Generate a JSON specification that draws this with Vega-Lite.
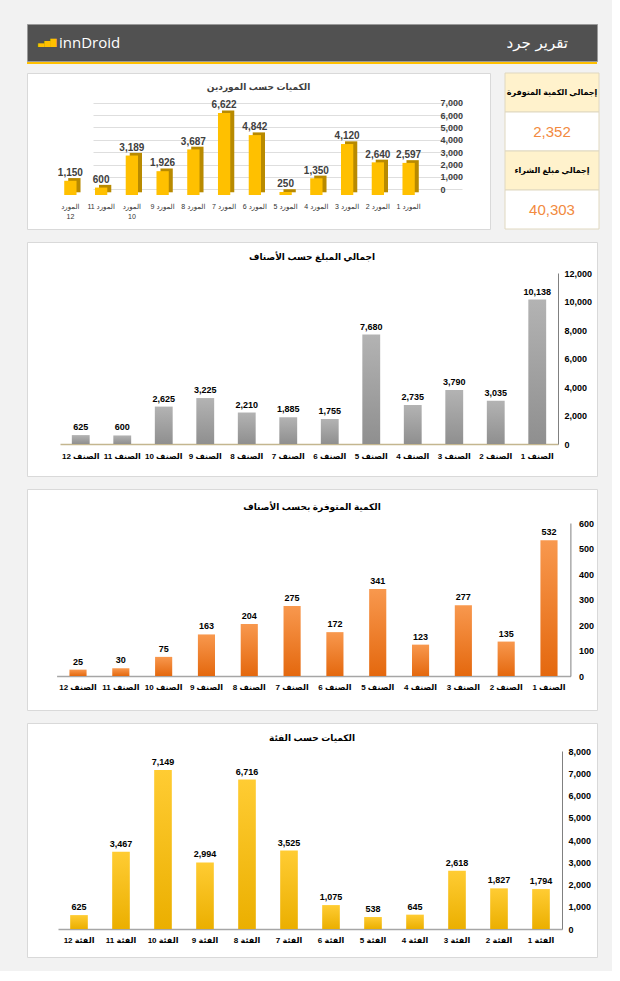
{
  "$schema": "https://vega.github.io/schema/vega-lite/v6.json",
  "background": "#f2f2f2",
  "padding": {"left": 26, "top": 23, "right": 12, "bottom": 13},
  "config": {
    "font": "Liberation Sans, DejaVu Sans, sans-serif",
    "view": {"stroke": null},
    "axis": {"labelFont": "Liberation Sans, DejaVu Sans, sans-serif", "title": null},
    "title": {"font": "Liberation Sans, DejaVu Sans, sans-serif"}
  },
  "datasets": {
    "header": [
      {"part": "logo", "icon": "▃▅▇", "text": "innDroid"},
      {"part": "title", "icon": "", "text": "تقرير جرد"}
    ],
    "kpi": [
      {"row": 1, "part": "label", "text": "إجمالي الكمية المتوفرة"},
      {"row": 2, "part": "value", "text": "2,352"},
      {"row": 3, "part": "label", "text": "إجمالي مبلغ الشراء"},
      {"row": 4, "part": "value", "text": "40,303"}
    ],
    "suppliers": [
      {"supplier": "المورد 12", "qty": 1150},
      {"supplier": "المورد 11", "qty": 600},
      {"supplier": "المورد 10", "qty": 3189},
      {"supplier": "المورد 9", "qty": 1926},
      {"supplier": "المورد 8", "qty": 3687},
      {"supplier": "المورد 7", "qty": 6622},
      {"supplier": "المورد 6", "qty": 4842},
      {"supplier": "المورد 5", "qty": 250},
      {"supplier": "المورد 4", "qty": 1350},
      {"supplier": "المورد 3", "qty": 4120},
      {"supplier": "المورد 2", "qty": 2640},
      {"supplier": "المورد 1", "qty": 2597}
    ],
    "items": [
      {"item": "الصنف 12", "amount": 625, "qty": 25},
      {"item": "الصنف 11", "amount": 600, "qty": 30},
      {"item": "الصنف 10", "amount": 2625, "qty": 75},
      {"item": "الصنف 9", "amount": 3225, "qty": 163},
      {"item": "الصنف 8", "amount": 2210, "qty": 204},
      {"item": "الصنف 7", "amount": 1885, "qty": 275},
      {"item": "الصنف 6", "amount": 1755, "qty": 172},
      {"item": "الصنف 5", "amount": 7680, "qty": 341},
      {"item": "الصنف 4", "amount": 2735, "qty": 123},
      {"item": "الصنف 3", "amount": 3790, "qty": 277},
      {"item": "الصنف 2", "amount": 3035, "qty": 135},
      {"item": "الصنف 1", "amount": 10138, "qty": 532}
    ],
    "categories": [
      {"category": "الفئة 12", "qty": 625},
      {"category": "الفئة 11", "qty": 3467},
      {"category": "الفئة 10", "qty": 7149},
      {"category": "الفئة 9", "qty": 2994},
      {"category": "الفئة 8", "qty": 6716},
      {"category": "الفئة 7", "qty": 3525},
      {"category": "الفئة 6", "qty": 1075},
      {"category": "الفئة 5", "qty": 538},
      {"category": "الفئة 4", "qty": 645},
      {"category": "الفئة 3", "qty": 2618},
      {"category": "الفئة 2", "qty": 1827},
      {"category": "الفئة 1", "qty": 1794}
    ]
  },
  "spacing": 11,
  "vconcat": [
    {
      "spacing": 8,
      "vconcat": [
        {
          "spacing": 0,
          "vconcat": [
            {
              "width": 570,
              "height": 37,
              "view": {"fill": "#515151", "stroke": "#9a9a9a"},
              "data": {"name": "header"},
              "encoding": {
                "x": {"field": "part", "type": "nominal", "scale": {"type": "point", "domain": ["logo", "title"], "range": [11, 541], "padding": 0}, "axis": null}
              },
              "layer": [
                {
                  "transform": [{"filter": "datum.part == 'logo'"}],
                  "mark": {"type": "text", "align": "left", "baseline": "middle", "fontSize": 8, "color": "#FFC000", "font": "DejaVu Sans"},
                  "encoding": {"text": {"field": "icon"}}
                },
                {
                  "transform": [{"filter": "datum.part == 'logo'"}],
                  "mark": {"type": "text", "align": "left", "baseline": "middle", "dx": 21, "fontSize": 15, "color": "white", "font": "Open Sans"},
                  "encoding": {"text": {"field": "text"}}
                },
                {
                  "transform": [{"filter": "datum.part == 'title'"}],
                  "mark": {"type": "text", "align": "right", "baseline": "middle", "fontSize": 15, "color": "white", "font": "DejaVu Sans"},
                  "encoding": {"text": {"field": "text"}}
                }
              ]
            },
            {
              "width": 570,
              "height": 2,
              "view": {"fill": "#FFC000", "stroke": null},
              "data": {"values": []},
              "mark": {"type": "rule"},
              "encoding": {}
            }
          ]
        },
        {
          "spacing": 13,
          "hconcat": [
            {
              "width": 463,
              "height": 156,
              "view": {"fill": "white", "stroke": "#d9d9d9"},
              "title": {"text": "الكميات حسب الموردين", "fontSize": 9, "fontWeight": "bold", "color": "#404040", "anchor": "middle", "baseline": "bottom", "offset": -27.5},
              "data": {"name": "suppliers"},
              "encoding": {
                "x": {
                  "field": "supplier", "type": "nominal", "sort": null,
                  "scale": {"range": [28, 397], "paddingInner": 0.6, "paddingOuter": 0.3},
                  "axis": {"orient": "bottom", "offset": -34, "ticks": false, "domain": false, "labelPadding": 7, "labelFontSize": 7, "labelColor": "#333333", "labelFontWeight": "normal", "labelAngle": 0, "labelLineHeight": 10, "labelExpr": "datum.label == 'المورد 12' || datum.label == 'المورد 10' ? split(datum.label, ' ') : datum.label"}
                },
                "y": {
                  "field": "qty", "type": "quantitative",
                  "scale": {"domain": [0, 7000], "range": [116.3, 29.7]},
                  "axis": {"orient": "right", "offset": -56, "values": [0, 1000, 2000, 3000, 4000, 5000, 6000, 7000], "format": ",.0f", "ticks": false, "domain": false, "grid": true, "gridColor": "#dedede", "labelPadding": 6, "labelFontSize": 9, "labelFontWeight": "bold", "labelColor": "#404040", "labelFlush": false}
                }
              },
              "layer": [
                {"mark": {"type": "bar", "color": "#B88A00", "xOffset": 4, "yOffset": 3, "y2Offset": 3}},
                {"mark": {"type": "bar", "color": "#FFC000", "yOffset": 5.7, "y2Offset": 5.7}},
                {
                  "mark": {"type": "text", "baseline": "alphabetic", "dy": 1, "fontSize": 10, "fontWeight": "bold", "color": "#404040"},
                  "encoding": {"text": {"field": "qty", "format": ","}}
                }
              ]
            },
            {
              "width": 94,
              "height": 156,
              "data": {"name": "kpi"},
              "encoding": {
                "y": {"field": "row", "type": "ordinal", "scale": {"paddingInner": 0, "paddingOuter": 0}, "axis": null}
              },
              "layer": [
                {
                  "mark": {"type": "bar", "stroke": "#e0d8c0", "strokeWidth": 1},
                  "encoding": {"color": {"field": "part", "type": "nominal", "scale": {"domain": ["label", "value"], "range": ["#FFF2CC", "#FFFFFF"]}, "legend": null}}
                },
                {
                  "transform": [{"filter": "datum.part == 'label'"}],
                  "mark": {"type": "text", "fontSize": 8, "fontWeight": "bold", "color": "black"},
                  "encoding": {"text": {"field": "text"}}
                },
                {
                  "transform": [{"filter": "datum.part == 'value'"}],
                  "mark": {"type": "text", "fontSize": 15, "color": "#F28A40"},
                  "encoding": {"text": {"field": "text"}}
                }
              ]
            }
          ]
        }
      ]
    },
    {
      "width": 570,
      "height": 234,
      "view": {"fill": "white", "stroke": "#d9d9d9"},
      "title": {"text": "اجمالي المبلغ حسب الأصناف", "fontSize": 9, "fontWeight": "bold", "color": "black", "anchor": "middle", "baseline": "bottom", "offset": -28.5},
      "data": {"name": "items"},
      "encoding": {
        "x": {
          "field": "item", "type": "nominal", "sort": null,
          "scale": {"range": [33, 531], "paddingInner": 0.57, "paddingOuter": 0.285},
          "axis": {"orient": "bottom", "offset": -32, "ticks": false, "domainColor": "#c4b68f", "domainWidth": 1.5, "labelPadding": 8, "labelFontSize": 8, "labelFontWeight": "bold", "labelColor": "black", "labelAngle": 0}
        },
        "y": {
          "field": "amount", "type": "quantitative",
          "scale": {"domain": [0, 12000], "range": [202, 31]},
          "axis": {"orient": "right", "offset": -39, "values": [0, 2000, 4000, 6000, 8000, 10000, 12000], "format": ",.0f", "ticks": false, "grid": false, "domainColor": "#808080", "labelPadding": 6, "labelFontSize": 9, "labelFontWeight": "bold", "labelColor": "black", "labelFlush": false}
        }
      },
      "layer": [
        {"mark": {"type": "bar", "color": {"gradient": "linear", "x1": 0, "y1": 0, "x2": 0, "y2": 1, "stops": [{"offset": 0, "color": "#b3b3b3"}, {"offset": 1, "color": "#8f8f8f"}]}}},
        {
          "mark": {"type": "text", "baseline": "bottom", "dy": -3, "fontSize": 9, "fontWeight": "bold", "color": "black"},
          "encoding": {"text": {"field": "amount", "format": ","}}
        }
      ]
    },
    {
      "width": 570,
      "height": 221,
      "view": {"fill": "white", "stroke": "#d9d9d9"},
      "title": {"text": "الكمية المتوفرة بحسب الأصناف", "fontSize": 9, "fontWeight": "bold", "color": "black", "anchor": "middle", "baseline": "bottom", "offset": -31.5},
      "data": {"name": "items"},
      "encoding": {
        "x": {
          "field": "item", "type": "nominal", "sort": null,
          "scale": {"range": [29.6, 543.4], "paddingInner": 0.6, "paddingOuter": 0.3},
          "axis": {"orient": "bottom", "offset": -34, "ticks": false, "domainColor": "#a6a6a6", "domainWidth": 1.5, "labelPadding": 7, "labelFontSize": 8, "labelFontWeight": "bold", "labelColor": "black", "labelAngle": 0}
        },
        "y": {
          "field": "qty", "type": "quantitative",
          "scale": {"domain": [0, 600], "range": [187, 34]},
          "axis": {"orient": "right", "offset": -26.6, "values": [0, 100, 200, 300, 400, 500, 600], "format": ",.0f", "ticks": false, "grid": false, "domainColor": "#808080", "labelPadding": 8, "labelFontSize": 9, "labelFontWeight": "bold", "labelColor": "black", "labelFlush": false}
        }
      },
      "layer": [
        {"mark": {"type": "bar", "color": {"gradient": "linear", "x1": 0, "y1": 0, "x2": 0, "y2": 1, "stops": [{"offset": 0, "color": "#F8984E"}, {"offset": 1, "color": "#E4680E"}]}}},
        {
          "mark": {"type": "text", "baseline": "bottom", "dy": -3, "fontSize": 9, "fontWeight": "bold", "color": "black"},
          "encoding": {"text": {"field": "qty", "format": ","}}
        }
      ]
    },
    {
      "width": 570,
      "height": 234,
      "view": {"fill": "white", "stroke": "#d9d9d9"},
      "title": {"text": "الكميات حسب الفئة", "fontSize": 9, "fontWeight": "bold", "color": "black", "anchor": "middle", "baseline": "bottom", "offset": -28.5},
      "data": {"name": "categories"},
      "encoding": {
        "x": {
          "field": "category", "type": "nominal", "sort": null,
          "scale": {"range": [31, 535], "paddingInner": 0.58, "paddingOuter": 0.29},
          "axis": {"orient": "bottom", "offset": -28, "ticks": false, "domainColor": "#a6a6a6", "domainWidth": 1.5, "labelPadding": 7, "labelFontSize": 8, "labelFontWeight": "bold", "labelColor": "black", "labelAngle": 0}
        },
        "y": {
          "field": "qty", "type": "quantitative",
          "scale": {"domain": [0, 8000], "range": [206, 28]},
          "axis": {"orient": "right", "offset": -35, "values": [0, 1000, 2000, 3000, 4000, 5000, 6000, 7000, 8000], "format": ",.0f", "ticks": false, "grid": false, "domainColor": "#808080", "labelPadding": 6, "labelFontSize": 9, "labelFontWeight": "bold", "labelColor": "black", "labelFlush": false}
        }
      },
      "layer": [
        {"mark": {"type": "bar", "color": {"gradient": "linear", "x1": 0, "y1": 0, "x2": 0, "y2": 1, "stops": [{"offset": 0, "color": "#FFCC33"}, {"offset": 1, "color": "#EBAF00"}]}}},
        {
          "mark": {"type": "text", "baseline": "bottom", "dy": -3, "fontSize": 9, "fontWeight": "bold", "color": "black"},
          "encoding": {"text": {"field": "qty", "format": ","}}
        }
      ]
    }
  ]
}
